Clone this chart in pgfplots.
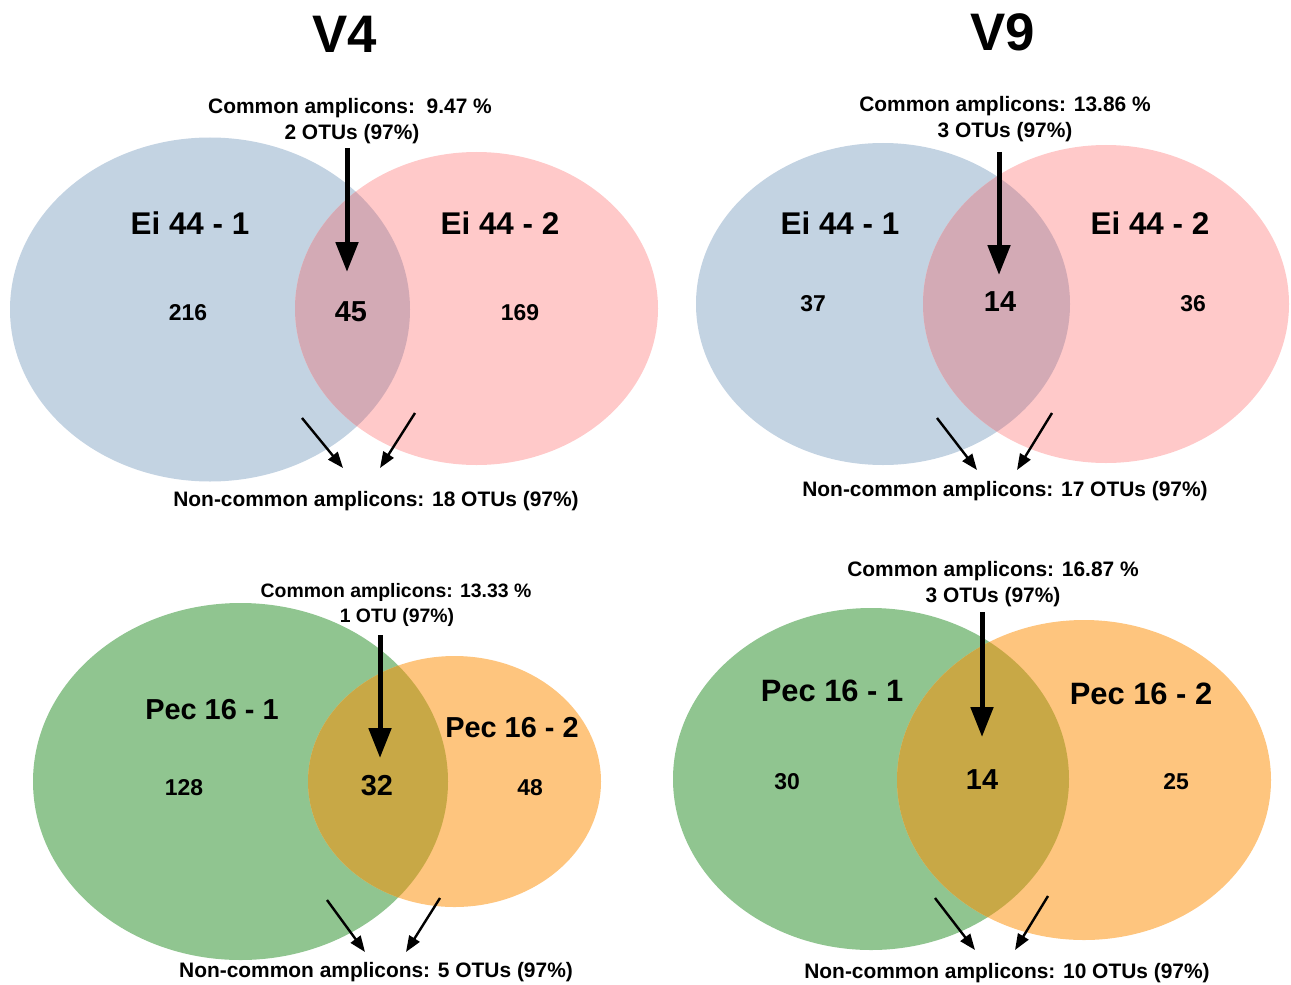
\documentclass[border=0pt]{standalone}
\usepackage{fontspec}
\setmainfont{Liberation Sans}
\usepackage{pgfplots}
\pgfplotsset{compat=1.18}
\usetikzlibrary{arrows.meta}
\definecolor{cblue}{HTML}{C3D3E2}
\definecolor{cpink}{HTML}{FFC9C9}
\definecolor{cbp}{HTML}{D3AAB5}
\definecolor{cgreen}{HTML}{90C590}
\definecolor{corange}{HTML}{FEC57E}
\definecolor{cgo}{HTML}{C8A846}
\newcommand{\T}[4]{\node[anchor=base,inner sep=0pt] at (axis cs:#1,#2) {\fontsize{#3}{#3}\selectfont\bfseries #4};}
\begin{document}
\begin{tikzpicture}
\begin{axis}[
  width=1291bp, height=984bp, scale only axis,
  xmin=0, xmax=1291, ymin=0, ymax=984, y dir=reverse,
  axis lines=none, ticks=none, clip=false,
  big/.style={black, line width=5bp, -{Triangle[width=22bp,length=30bp]}},
  small/.style={black, line width=2.4bp, -{Triangle[width=12bp,length=16bp]}},
]
\path (axis cs:0,0) rectangle (axis cs:1291,984);
% ---- Top left ----
\fill[cblue] (axis cs:210,309.5) ellipse [x radius=200, y radius=172];
\fill[cpink] (axis cs:476.5,308.5) ellipse [x radius=181.5, y radius=156.5];
\begin{scope}
\clip (axis cs:210,309.5) ellipse [x radius=200, y radius=172];
\fill[cbp] (axis cs:476.5,308.5) ellipse [x radius=181.5, y radius=156.5];
\end{scope}
% ---- Top right ----
\fill[cblue] (axis cs:883,304) ellipse [x radius=187, y radius=161];
\fill[cpink] (axis cs:1106,304) ellipse [x radius=183, y radius=159];
\begin{scope}
\clip (axis cs:883,304) ellipse [x radius=187, y radius=161];
\fill[cbp] (axis cs:1106,304) ellipse [x radius=183, y radius=159];
\end{scope}
% ---- Bottom left ----
\fill[cgreen] (axis cs:240.5,781.5) ellipse [x radius=207.5, y radius=178.5];
\fill[corange] (axis cs:454.5,781.5) ellipse [x radius=146.5, y radius=125.5];
\begin{scope}
\clip (axis cs:240.5,781.5) ellipse [x radius=207.5, y radius=178.5];
\fill[cgo] (axis cs:454.5,781.5) ellipse [x radius=146.5, y radius=125.5];
\end{scope}
% ---- Bottom right ----
\fill[cgreen] (axis cs:871,779) ellipse [x radius=198, y radius=171];
\fill[corange] (axis cs:1084,780) ellipse [x radius=187, y radius=160];
\begin{scope}
\clip (axis cs:871,779) ellipse [x radius=198, y radius=171];
\fill[cgo] (axis cs:1084,780) ellipse [x radius=187, y radius=160];
\end{scope}

% arrows
\addplot[big] coordinates {(347,148) (347,272)};
\addplot[big] coordinates {(999,152) (999,275)};
\addplot[big] coordinates {(380,635) (380,758)};
\addplot[big] coordinates {(982,612) (982,737)};
\addplot[small] coordinates {(302,418) (343,468)};
\addplot[small] coordinates {(415,413) (380,468)};
\addplot[small] coordinates {(937,418) (977,470)};
\addplot[small] coordinates {(1052,413) (1017,470)};
\addplot[small] coordinates {(327,900) (365,952)};
\addplot[small] coordinates {(440,898) (406,952)};
\addplot[small] coordinates {(935,898) (975,950)};
\addplot[small] coordinates {(1048,896) (1015,950)};

% texts top left
\T{345}{53}{53}{V4}
\T{350}{114}{21}{Common amplicons:\ \ 9.47 \%}
\T{352}{140}{21}{2 OTUs (97\%)}
\T{190}{234}{31.5}{Ei 44 - 1}
\T{500}{234}{31.5}{Ei 44 - 2}
\T{188}{320}{23}{216}
\T{351}{321}{29}{45}
\T{520}{320}{23}{169}
\T{376}{506}{21}{Non-common amplicons: 18 OTUs (97\%)}
% top right
\T{1003}{51}{53}{V9}
\T{1005}{112}{21}{Common amplicons: 13.86 \%}
\T{1005}{138}{21}{3 OTUs (97\%)}
\T{840}{234}{31.5}{Ei 44 - 1}
\T{1150}{234}{31.5}{Ei 44 - 2}
\T{813}{311}{23}{37}
\T{1000}{311}{29}{14}
\T{1193}{311}{23}{36}
\T{1005}{496}{21}{Non-common amplicons: 17 OTUs (97\%)}
% bottom left
\T{396}{597}{19.5}{Common amplicons: 13.33 \%}
\T{397}{622}{19.5}{1 OTU (97\%)}
\T{212}{719}{29}{Pec 16 - 1}
\T{512}{737}{29}{Pec 16 - 2}
\T{184}{795}{23}{128}
\T{377}{795}{29}{32}
\T{530}{795}{23}{48}
\T{376}{977}{21}{Non-common amplicons: 5 OTUs (97\%)}
% bottom right
\T{993}{576}{21}{Common amplicons: 16.87 \%}
\T{993}{602}{21}{3 OTUs (97\%)}
\T{832}{701}{31}{Pec 16 - 1}
\T{1141}{704}{31}{Pec 16 - 2}
\T{787}{789}{23}{30}
\T{982}{789}{29}{14}
\T{1176}{789}{23}{25}
\T{1007}{978}{21}{Non-common amplicons: 10 OTUs (97\%)}
\end{axis}
\end{tikzpicture}
\end{document}
